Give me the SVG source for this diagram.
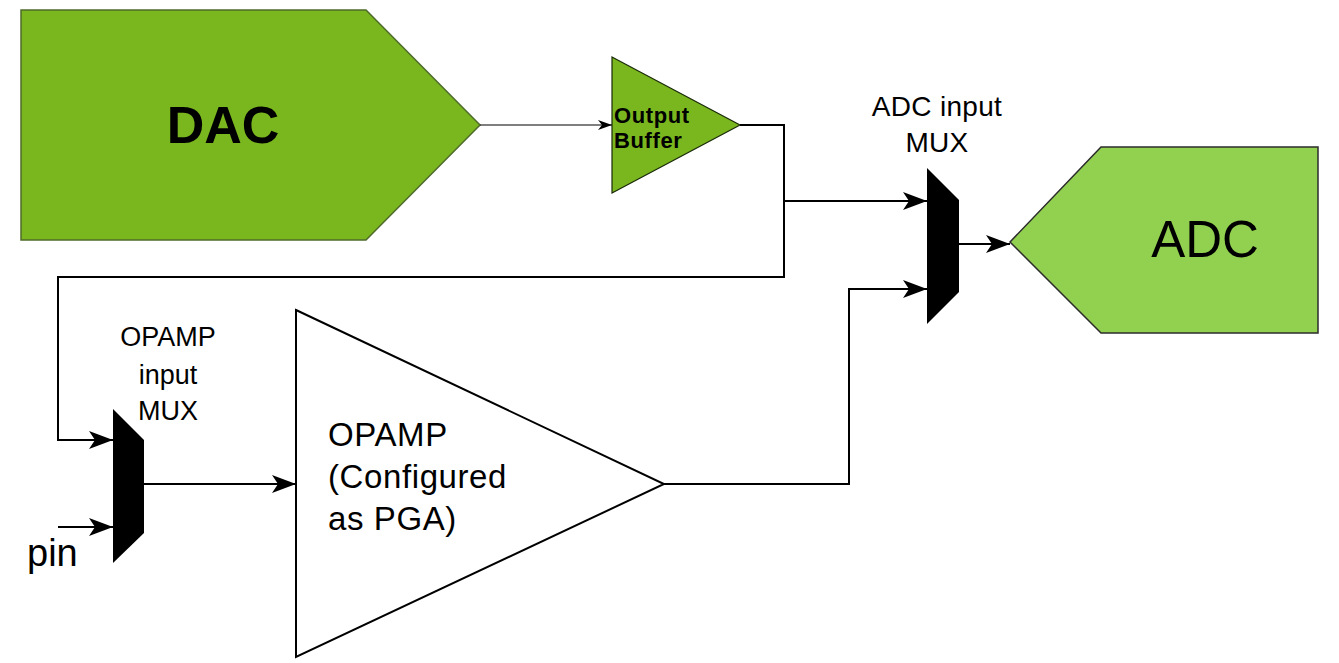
<svg xmlns="http://www.w3.org/2000/svg" width="1339" height="663" viewBox="0 0 1339 663">
<style>
.w{fill:none;stroke:#000;stroke-width:2}
.t{font-family:"Liberation Sans",Arial,sans-serif;fill:#000}
.b{font-weight:bold}
</style>
<defs>
<marker id="ah" markerUnits="userSpaceOnUse" markerWidth="26" markerHeight="20" refX="24" refY="9" orient="auto"><path d="M0,0 L24,9 L0,18 L6,9 Z" fill="#000"/></marker>
<marker id="as" markerUnits="userSpaceOnUse" markerWidth="16" markerHeight="12" refX="14" refY="5" orient="auto"><path d="M0,0 L14,5 L0,10 L4,5 Z" fill="#000"/></marker>
</defs>
<rect width="1339" height="663" fill="#fff"/>
<g id="dac">
<polygon points="21,10 366,10 480,125 366,240 21,240" fill="#7AB71F" stroke="#4E6B2A" stroke-width="1.5"/>
<text class="t b" x="223" y="143" font-size="52" text-anchor="middle">DAC</text>
</g>
<g id="buffer">
<polygon points="612,57 740,125 612,193" fill="#7AB71F" stroke="#1a2a08" stroke-width="1.2"/>
<text class="t b" x="614" y="123" font-size="22" letter-spacing="0.6">Output</text>
<text class="t b" x="614" y="148" font-size="22" letter-spacing="0.6">Buffer</text>
</g>
<g id="adcmux">
<polygon points="927,168 959,200 959,292 927,324" fill="#000"/>
<text class="t" x="937" y="116" font-size="28" text-anchor="middle" letter-spacing="0.3">ADC input</text>
<text class="t" x="937" y="152" font-size="28" text-anchor="middle" letter-spacing="0.3">MUX</text>
</g>
<g id="adc">
<polygon points="1010,242 1101,147 1318,147 1318,333 1101,333" fill="#92D050" stroke="#2b2b2b" stroke-width="1.5"/>
<text class="t" x="1205" y="257" font-size="51" text-anchor="middle">ADC</text>
</g>
<g id="opampmux">
<polygon points="113,409 144,440 144,533 113,563" fill="#000"/>
<text class="t" x="168" y="346" font-size="27" text-anchor="middle">OPAMP</text>
<text class="t" x="168" y="384" font-size="27" text-anchor="middle">input</text>
<text class="t" x="168" y="420" font-size="27" text-anchor="middle">MUX</text>
</g>
<g id="opamp">
<polygon points="296,310 664,484 296,657" fill="#fff" stroke="#000" stroke-width="2"/>
<text class="t" x="328" y="446" font-size="33" letter-spacing="0.6">OPAMP</text>
<text class="t" x="328" y="488" font-size="33" letter-spacing="0.6">(Configured</text>
<text class="t" x="328" y="530" font-size="33" letter-spacing="0.6">as PGA)</text>
</g>
<g id="pin">
<text class="t" x="27" y="566" font-size="38">pin</text>
</g>
<g id="connectors">
<path d="M480,125 H612" fill="none" stroke="#000" stroke-width="1.2" marker-end="url(#as)"/>
<path class="w" d="M740,125 H784 V277 H58 V440 H113" marker-end="url(#ah)"/>
<path class="w" d="M784,201 H927" marker-end="url(#ah)"/>
<path class="w" d="M58,527 H113" marker-end="url(#ah)"/>
<path class="w" d="M144,484 H296" marker-end="url(#ah)"/>
<path class="w" d="M664,484 H849 V289 H927" marker-end="url(#ah)"/>
<path class="w" d="M959,244 H1010" marker-end="url(#ah)"/>
</g>
</svg>
